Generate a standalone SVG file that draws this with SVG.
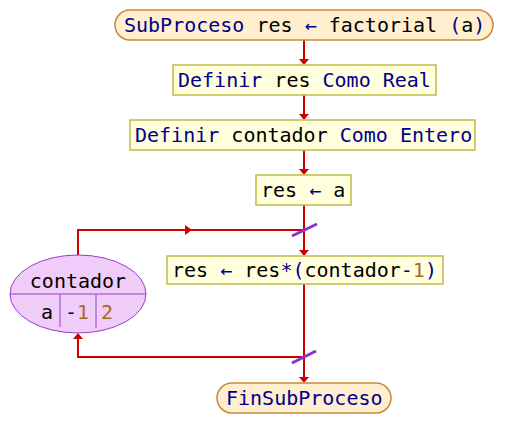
<svg xmlns="http://www.w3.org/2000/svg" width="518" height="448" viewBox="0 0 518 448">
<style>
text{font-family:"DejaVu Sans Mono","Liberation Mono",monospace;font-size:20px;fill:#000}
.k{fill:#00008C}
.n{fill:#A86A28}
.box{fill:#FFFFDD;stroke:#BDBD4A;stroke-width:1.5}
.term{fill:#FFEFCF;stroke:#C8893A;stroke-width:1.5}
.ln{fill:none;stroke:#CC0000;stroke-width:2}
.ah{fill:#CC0000}
.sl{stroke:#8A33CC;stroke-width:3}
</style>
<rect width="518" height="448" fill="#fff"/>
<g id="connectors">
<line class="ln" x1="304" y1="40" x2="304" y2="60"/>
<polygon class="ah" points="299,59 309,59 304,65"/>
<line class="ln" x1="304" y1="95" x2="304" y2="115"/>
<polygon class="ah" points="299,114 309,114 304,120"/>
<line class="ln" x1="304" y1="150" x2="304" y2="170"/>
<polygon class="ah" points="299,169 309,169 304,175"/>
<line class="ln" x1="304" y1="205" x2="304" y2="251"/>
<polygon class="ah" points="299,250 309,250 304,256"/>
<line class="ln" x1="304" y1="284" x2="304" y2="378"/>
<polygon class="ah" points="299,377 309,377 304,383"/>
<polyline class="ln" points="78,255 78,230 304,230"/>
<polygon class="ah" points="185,225 185,235 192,230"/>
<polyline class="ln" points="304,357 78,357 78,339"/>
<polygon class="ah" points="73,339 83,339 78,333"/>
<line class="sl" x1="292" y1="236" x2="317" y2="224"/>
<line class="sl" x1="292" y1="363" x2="316" y2="351"/>
</g>
<g id="start">
<rect class="term" x="115" y="10" width="378" height="30" rx="15"/>
<text x="124" y="32"><tspan class="k">SubProceso</tspan> res <tspan class="k">←</tspan> factorial <tspan class="k">(</tspan>a<tspan class="k">)</tspan></text>
</g>
<g id="def1">
<rect class="box" x="173" y="65" width="263" height="30"/>
<text x="178" y="87"><tspan class="k">Definir</tspan> res <tspan class="k">Como Real</tspan></text>
</g>
<g id="def2">
<rect class="box" x="130" y="120" width="345" height="30"/>
<text x="135" y="142"><tspan class="k">Definir</tspan> contador <tspan class="k">Como Entero</tspan></text>
</g>
<g id="assign1">
<rect class="box" x="256" y="175" width="95" height="30"/>
<text x="261" y="197">res <tspan class="k">←</tspan> a</text>
</g>
<g id="assign2">
<rect class="box" x="167" y="256" width="276" height="28"/>
<text x="172" y="277">res <tspan class="k">←</tspan> res<tspan class="k">*(</tspan>contador<tspan class="k">-</tspan><tspan class="n">1</tspan><tspan class="k">)</tspan></text>
</g>
<g id="loop">
<ellipse cx="78" cy="294" rx="68" ry="39" fill="#F0CCF8" stroke="#9A3BCC" stroke-width="1"/>
<line x1="10" y1="294" x2="146" y2="294" stroke="#9A3BCC" stroke-width="1"/>
<line x1="60" y1="294" x2="60" y2="327" stroke="#9A3BCC" stroke-width="1"/>
<line x1="96" y1="294" x2="96" y2="328" stroke="#9A3BCC" stroke-width="1"/>
<text x="78" y="288" text-anchor="middle">contador</text>
<text x="41" y="319">a</text>
<text x="65" y="319"><tspan class="k">-</tspan><tspan class="n">1</tspan></text>
<text x="101" y="319" class="n">2</text>
</g>
<g id="end">
<rect class="term" x="217" y="383" width="174" height="30" rx="15"/>
<text x="226" y="405" class="k">FinSubProceso</text>
</g>
</svg>
